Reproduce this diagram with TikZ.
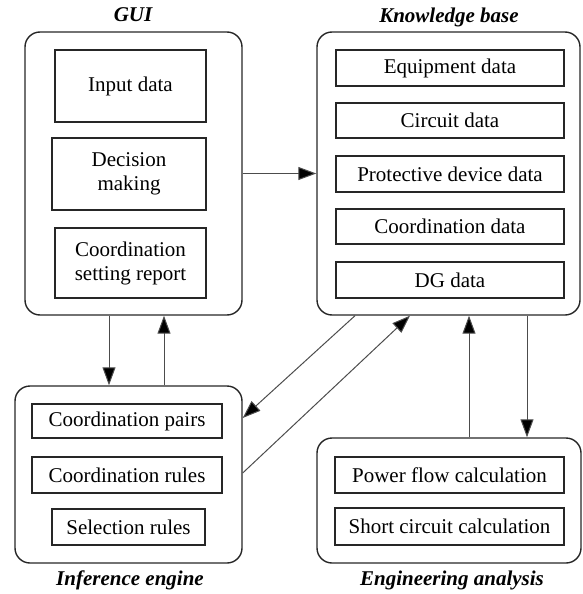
\documentclass[tikz,border=0pt]{standalone}
\usepackage{fontspec}
\setmainfont{Liberation Serif}
\usetikzlibrary{arrows.meta}
\begin{document}
\begin{tikzpicture}[x=1pt,y=-1pt,
  outer/.style={draw=black!85,line width=1.4pt,rounded corners=15pt,inner sep=0pt},
  inbox/.style={draw=black!85,line width=1.2pt,inner sep=0pt,align=center,font=\fontsize{21}{24}\selectfont},
  ttl/.style={font=\fontsize{21}{24}\selectfont\bfseries\itshape},
  arr/.style={draw=black!70,line width=1pt,-{Triangle[length=18pt,width=13pt,fill=black]}}]
\useasboundingbox (0,0) rectangle (582,594);
% GUI
\node[outer,minimum width=217pt,minimum height=283pt] (gui) at (133.5,173.5) {};
\node[inbox,minimum width=151pt,minimum height=72pt] (inp) at (130.5,86) {Input data};
\node[inbox,minimum width=154pt,minimum height=72pt] (dec) at (129,174) {Decision\\making};
\node[inbox,minimum width=151pt,minimum height=70pt] (rep) at (130.5,263) {Coordination\\setting report};
\node[ttl] (guil) at (133,15) {GUI};
% Knowledge base
\node[outer,minimum width=263pt,minimum height=283pt] (kb) at (448.5,173.5) {};
\node[inbox,minimum width=228pt,minimum height=36pt] (eq) at (450,68) {Equipment data};
\node[inbox,minimum width=228pt,minimum height=35pt] (cd) at (450,120.5) {Circuit data};
\node[inbox,minimum width=228pt,minimum height=36pt] (pd) at (450,174) {Protective device data};
\node[inbox,minimum width=228pt,minimum height=35pt] (co) at (450,226.5) {Coordination data};
\node[inbox,minimum width=228pt,minimum height=36pt] (dg) at (450,280) {DG data};
\node[ttl] (kbl) at (449,17) {Knowledge base};
% Inference engine
\node[outer,minimum width=227pt,minimum height=177pt] (ie) at (128.5,474.5) {};
\node[inbox,minimum width=190pt,minimum height=34pt] (cp) at (127,421) {Coordination pairs};
\node[inbox,minimum width=190pt,minimum height=36pt] (cr) at (127,475) {Coordination rules};
\node[inbox,minimum width=153pt,minimum height=36pt] (sr) at (128.5,527) {Selection rules};
\node[ttl] (iel) at (130,580) {Inference engine};
% Engineering analysis
\node[outer,minimum width=264pt,minimum height=125pt] (ea) at (449,500.5) {};
\node[inbox,minimum width=229pt,minimum height=36pt] (pf) at (449.5,475) {Power flow calculation};
\node[inbox,minimum width=229pt,minimum height=37pt] (sc) at (449.5,526.5) {Short circuit calculation};
\node[ttl] (eal) at (452,580) {Engineering analysis};
% helper coordinates
\coordinate (xa) at (109,0);
\coordinate (xb) at (164,0);
\coordinate (xc) at (355,0);
\coordinate (yc) at (0,418);
\coordinate (yd) at (0,473);
\coordinate (xd) at (410,0);
\coordinate (xe) at (469,0);
\coordinate (xf) at (527,0);
% connectors
\draw[arr] (gui.east) -- (kb.west);
\draw[arr] (gui.south -| xa) -- (ie.north -| xa);
\draw[arr] (ie.north -| xb) -- (gui.south -| xb);
\draw[arr] (kb.south -| xc) -- (ie.east |- yc);
\draw[arr] (ie.east |- yd) -- (kb.south -| xd);
\draw[arr] (ea.north -| xe) -- (kb.south -| xe);
\draw[arr] (kb.south -| xf) -- (ea.north -| xf);
\end{tikzpicture}
\end{document}
